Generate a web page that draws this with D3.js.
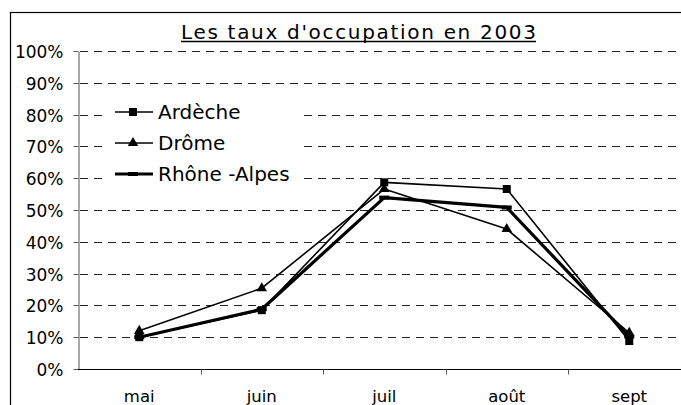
<!DOCTYPE html>
<html><head><meta charset="utf-8">
<script src="https://cdn.jsdelivr.net/npm/d3@7"></script>
<style>body{margin:0;background:#fff}svg{display:block}text{font-family:"DejaVu Sans",Verdana,sans-serif}</style>
</head><body>
<script>
const categories = ["mai","juin","juil","août","sept"];
const ardeche = [0.10, 0.185, 0.587, 0.566, 0.088];
const drome = [0.12, 0.254, 0.566, 0.44, 0.114];
const rhoneAlpes = [0.10, 0.188, 0.539, 0.508, 0.102];
const yTicks = [0,0.1,0.2,0.3,0.4,0.5,0.6,0.7,0.8,0.9,1.0];
const seriesNames = ["Ardèche","Drôme","Rhône -Alpes"];
const title = "Les taux d'occupation en 2003";

const W=681,H=405;
const svg=d3.select("body").append("svg").attr("width",W).attr("height",H);
const x=d3.scaleBand().domain(categories).range([78,690.5]);
const y=d3.scaleLinear().domain([0,1]).range([369,51]);

// chart frame
svg.append("rect").attr("x",10.5).attr("y",12.5).attr("width",700).attr("height",420)
  .attr("fill","#fff").attr("stroke","#000").attr("stroke-width",1.2);

// gridlines
svg.append("g").selectAll("line").data(yTicks.slice(1)).join("line")
  .attr("x1",78).attr("x2",700).attr("y1",d=>Math.round(y(d))+0.5).attr("y2",d=>Math.round(y(d))+0.5)
  .attr("stroke","#222").attr("stroke-dasharray","8,6").attr("stroke-dashoffset",-2);

// y axis
const ya=svg.append("g").attr("transform","translate(78.5,0.5)")
  .call(d3.axisLeft(y).tickValues(yTicks).tickFormat(d3.format(".0%")).tickSize(5).tickSizeOuter(0));
ya.select(".domain").attr("stroke","#555");
ya.selectAll(".tick line").attr("stroke","#555");
ya.selectAll("text").attr("font-size",17).attr("fill","#000").attr("x",-15).attr("dy","0.36em");
ya.selectAll(".tick").attr("transform",d=>`translate(0,${Math.round(y(d))})`);

// x axis
const xa=svg.append("g").attr("transform","translate(0,369.5)");
xa.append("line").attr("x1",78).attr("x2",700).attr("stroke","#000");
xa.selectAll("line.t").data(categories.slice(1)).join("line").attr("class","t")
  .attr("x1",d=>Math.round(x(d))+0.5).attr("x2",d=>Math.round(x(d))+0.5).attr("y1",0).attr("y2",5).attr("stroke","#555");
xa.selectAll("text").data(categories).join("text")
  .attr("x",d=>x(d)+x.bandwidth()/2).attr("y",32.5).attr("text-anchor","middle")
  .attr("font-size",16.5).text(d=>d);

// series
const cx=d=>x(d)+x.bandwidth()/2;
const line=d3.line().x((v,i)=>cx(categories[i])).y(v=>y(v));
const series=[
 {name:seriesNames[0],vals:ardeche,w:1.6,marker:"square"},
 {name:seriesNames[1],vals:drome,w:1.6,marker:"triangle"},
 {name:seriesNames[2],vals:rhoneAlpes,w:3.2,marker:"dash"}];
function drawMarker(g,type,px,py){
  if(type==="square") g.append("rect").attr("x",px-4).attr("y",py-4).attr("width",8).attr("height",8).attr("fill","#000");
  else if(type==="triangle") g.append("path").attr("d",d3.symbol(d3.symbolTriangle,48)()).attr("transform",`translate(${px},${py})`).attr("fill","#000");
  else g.append("rect").attr("x",px-5).attr("y",py-2).attr("width",10).attr("height",4).attr("fill","#000");
}
[series[2],series[1],series[0]].forEach(s=>{
  const g=svg.append("g");
  g.append("path").attr("d",line(s.vals)).attr("fill","none").attr("stroke","#000").attr("stroke-width",s.w).attr("stroke-linejoin","round");
  s.vals.forEach((v,i)=>drawMarker(g,s.marker,cx(categories[i]),y(v)));
});

// legend
const lg=svg.append("g");
lg.append("rect").attr("x",102).attr("y",97).attr("width",201).attr("height",92).attr("fill","#fff");
series.forEach((s,i)=>{
  const yy=112+i*31;
  lg.append("line").attr("x1",115).attr("x2",153).attr("y1",yy).attr("y2",yy).attr("stroke","#000").attr("stroke-width",s.w);
  drawMarker(lg,s.marker,133,yy);
  lg.append("text").attr("x",158).attr("y",yy+7).attr("font-size",20).text(s.name);
});

// title with manual underline
const tt=svg.append("text").attr("x",358.5).attr("y",39).attr("text-anchor","middle").attr("font-size",20)
  .attr("textLength",355).attr("lengthAdjust","spacing").text(title);
const bb=tt.node().getBBox();
svg.append("line").attr("x1",bb.x).attr("x2",bb.x+bb.width).attr("y1",41.5).attr("y2",41.5)
  .attr("stroke","#000").attr("stroke-width",1.4);
</script>
</body></html>
